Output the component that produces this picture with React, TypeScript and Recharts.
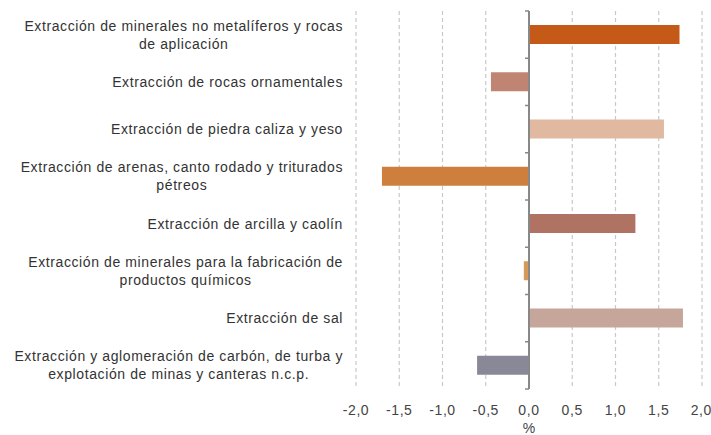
import { BarChart, Bar, XAxis, YAxis, CartesianGrid, ReferenceLine, Cell, Label } from 'recharts';

const categories = [
  'Extracción de minerales no metalíferos y rocas\nde aplicación',
  'Extracción de rocas ornamentales',
  'Extracción de piedra caliza y yeso',
  'Extracción de arenas, canto rodado y triturados\npétreos',
  'Extracción de arcilla y caolín',
  'Extracción de minerales para la fabricación de\nproductos químicos',
  'Extracción de sal',
  'Extracción y aglomeración de carbón, de turba y\nexplotación de minas y canteras n.c.p.',
];

const values = [1.74, -0.44, 1.56, -1.7, 1.23, -0.06, 1.78, -0.6];

const barColors = ['#C55A18', '#C08472', '#E0B9A0', '#CF7F3D', '#B07263', '#D59A5A', '#C6A69A', '#888896'];

const xTicks = [-2, -1.5, -1, -0.5, 0, 0.5, 1, 1.5, 2];

const data = categories.map((name, i) => ({ name, value: values[i] }));

const W = 711;
const H = 435;
const margin = { top: 11, right: 9, bottom: 0, left: 0 };
const yAxisWidth = 356;
const xAxisHeight = 46;
const plotLeft = margin.left + yAxisWidth;
const plotWidth = W - plotLeft - margin.right;
const plotHeight = H - margin.top - margin.bottom - xAxisHeight;
const zeroX = plotLeft + plotWidth / 2;
const band = plotHeight / categories.length;

const font = '"Liberation Sans", Arial, sans-serif';
const fontSize = 14;
const spacing = 0.6;
const labelRight = 343;

let ctx: CanvasRenderingContext2D | null = null;
function textWidth(s: string) {
  if (!ctx) ctx = document.createElement('canvas').getContext('2d');
  if (!ctx) return s.length * 7;
  ctx.font = `${fontSize}px ${font}`;
  return ctx.measureText(s).width + s.length * spacing;
}

function CategoryTick(props: any) {
  const { y, payload, index } = props;
  const lines: string[] = String(payload.value).split('\n');
  const lh = 18;
  const startY = y - ((lines.length - 1) * lh) / 2;
  const blockW = Math.max(...lines.map(textWidth));
  const cx = labelRight - blockW / 2;
  return (
    <g>
      <text
        x={cx}
        y={startY}
        textAnchor="middle"
        fill="#333"
        fontSize={fontSize}
        fontFamily={font}
        letterSpacing={spacing}
        dominantBaseline="central"
      >
        {lines.map((l, i) => (
          <tspan key={i} x={cx} y={startY + i * lh}>
            {l}
          </tspan>
        ))}
      </text>
      <line x1={zeroX - 4} x2={zeroX} y1={y - band / 2} y2={y - band / 2} stroke="#888" strokeWidth={1.5} />
      {index === categories.length - 1 && (
        <line x1={zeroX - 4} x2={zeroX} y1={y + band / 2} y2={y + band / 2} stroke="#888" strokeWidth={1.5} />
      )}
    </g>
  );
}

export default function App() {
  return (
    <div style={{ position: 'absolute', left: 0, top: 0, width: W, height: H, background: '#fff' }}>
      <BarChart width={W} height={H} data={data} layout="vertical" margin={margin}>
        <CartesianGrid horizontal={false} stroke="#c8c8c8" strokeDasharray="4 3" strokeWidth={1.2} />
        <XAxis
          type="number"
          domain={[-2, 2]}
          ticks={xTicks}
          allowDataOverflow
          height={xAxisHeight}
          axisLine={false}
          tickLine={false}
          tickMargin={10}
          tick={{ fill: '#444', fontSize: fontSize, fontFamily: font, letterSpacing: spacing }}
          tickFormatter={(v: number) => v.toFixed(1).replace('.', ',')}
        >
          <Label value="%" position="insideBottom" offset={2} fill="#444" fontSize={fontSize} fontFamily={font} />
        </XAxis>
        <YAxis
          type="category"
          dataKey="name"
          width={yAxisWidth}
          axisLine={false}
          tickLine={false}
          interval={0}
          tick={<CategoryTick />}
        />
        <ReferenceLine x={0} stroke="#888" strokeWidth={2} />
        <Bar dataKey="value" barSize={19} isAnimationActive={false}>
          {data.map((_, i) => (
            <Cell key={i} fill={barColors[i]} />
          ))}
        </Bar>
      </BarChart>
    </div>
  );
}
